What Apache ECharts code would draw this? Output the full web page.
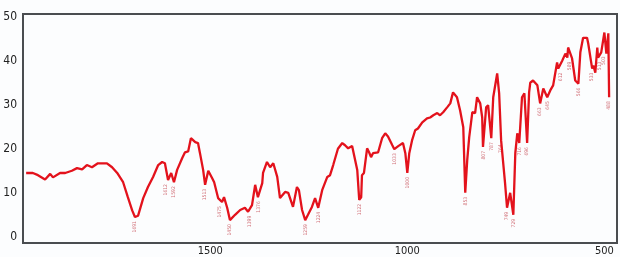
<!DOCTYPE html>
<html>
<head>
<meta charset="utf-8">
<script src="https://cdn.jsdelivr.net/npm/echarts@6/dist/echarts.min.js"></script>
<style>
  html, body { margin: 0; padding: 0; background: #fcfdfe; }
  #chart { width: 620px; height: 257px; }
</style>
</head>
<body>
<div id="chart"></div>
<script>
// IR spectrum (wavenumber cm-1 -> transmittance)
const wavenumbers = [
  1967, 1950, 1937, 1919, 1906, 1899, 1881, 1868, 1851, 1838, 1825, 1813, 1800, 1785, 1762, 1749,
  1736, 1721, 1709, 1698, 1691, 1683, 1670, 1658, 1645, 1632, 1622, 1615, 1607, 1599, 1592, 1584,
  1571, 1564, 1556, 1549, 1538, 1531, 1526, 1518, 1513, 1505, 1495, 1490, 1480, 1470, 1465, 1457,
  1450, 1437, 1424, 1412, 1404, 1394, 1386, 1379, 1368, 1366, 1356, 1348, 1340, 1330, 1323, 1310,
  1302, 1290, 1280, 1275, 1267, 1259, 1252, 1242, 1234, 1226, 1216, 1203, 1196, 1188, 1176, 1165,
  1158, 1150, 1140, 1135, 1127, 1122, 1117, 1115, 1110, 1102, 1097, 1092, 1087, 1074, 1064, 1056,
  1049, 1038, 1033, 1023, 1011, 1005, 1000, 995, 988, 980, 973, 962, 950, 942, 934, 924,
  917, 909, 899, 891, 884, 874, 866, 858, 853, 848, 843, 835, 828, 823, 815, 810,
  808, 800, 795, 787, 782, 772, 767, 762, 757, 752, 747, 739, 731, 726, 721, 716,
  709, 703, 696, 691, 688, 681, 670, 663, 655, 645, 637, 630, 620, 617, 607, 599,
  594, 592, 582, 574, 566, 561, 554, 544, 541, 531, 528, 523, 518, 516, 508, 500,
  495, 490, 488
];
const transmittance = [
  14.5, 14.5, 14.0, 13.0, 14.3, 13.5, 14.5, 14.5, 15.0, 15.6, 15.3, 16.3, 15.8, 16.7, 16.7, 15.8,
  14.5, 12.4, 9.0, 6.0, 4.5, 4.8, 8.8, 11.3, 13.6, 16.3, 17.0, 16.7, 12.9, 14.5, 12.4, 15.2,
  17.9, 19.2, 19.4, 22.4, 21.5, 21.3, 19.0, 15.2, 11.8, 15.0, 13.3, 12.4, 8.8, 7.9, 9.0, 6.6,
  3.8, 5.0, 6.1, 6.6, 5.7, 7.2, 11.8, 9.0, 12.2, 14.5, 17.0, 15.8, 16.7, 13.6, 8.8, 10.2,
  10.0, 6.8, 11.3, 10.6, 6.1, 3.8, 5.0, 6.8, 8.8, 6.6, 10.6, 13.6, 14.0, 16.3, 20.0, 21.3,
  20.8, 20.1, 20.6, 20.4, 15.2, 8.4, 9.0, 14.0, 14.5, 20.1, 19.2, 18.1, 19.0, 19.2, 22.4, 23.5,
  22.8, 20.8, 19.9, 20.6, 21.3, 19.0, 14.5, 19.0, 21.9, 24.2, 24.6, 26.0, 26.9, 27.1, 27.6, 28.1,
  27.6, 28.3, 29.4, 30.3, 32.8, 31.7, 28.7, 24.9, 10.0, 17.4, 22.6, 28.3, 28.1, 31.7, 30.3, 27.1,
  20.4, 29.4, 29.9, 22.4, 31.7, 37.1, 32.6, 21.9, 21.5, 12.2, 6.6, 10.0, 5.0, 19.0, 23.5, 21.3,
  31.7, 32.6, 21.3, 32.8, 35.0, 35.5, 34.4, 30.3, 33.7, 31.7, 33.3, 34.4, 39.6, 38.2, 40.0, 41.6,
  40.7, 43.0, 40.5, 35.5, 34.8, 41.9, 45.2, 45.2, 43.9, 38.2, 38.9, 37.3, 43.0, 40.7, 41.9, 46.4,
  41.6, 46.2, 31.7
];
// annotated band positions (printed under the dips)
const peakLabels = [
  1691, 1612, 1592, 1513, 1475, 1450, 1399, 1376, 1259, 1224, 1122, 1033, 1000,
  853, 807, 787, 764, 749, 729, 716, 696, 663, 645, 612, 589, 566, 533, 513, 503, 488
];
const xTicks = [1500, 1000, 500];
const yTicks = [0, 10, 20, 30, 40, 50];

const spectrum = wavenumbers.map((w, i) => [w, transmittance[i]]);

function dipAt(w) {
  let best = null;
  spectrum.forEach(([x, y]) => {
    if (Math.abs(x - w) <= 6 && (best === null || y < best)) best = y;
  });
  if (best === null) {
    let d = Infinity;
    spectrum.forEach(([x, y]) => {
      if (Math.abs(x - w) < d) { d = Math.abs(x - w); best = y; }
    });
  }
  return best;
}

const chart = echarts.init(document.getElementById('chart'));
chart.setOption({
  backgroundColor: '#fcfdfe',
  animation: false,
  grid: {
    left: 23, right: 3, top: 14, bottom: 13,
    show: true, borderColor: '#4a4d50', borderWidth: 2, backgroundColor: 'transparent'
  },
  xAxis: {
    type: 'value',
    inverse: true,
    min: 468,
    max: 1975,
    axisLine: { show: false },
    axisTick: { show: false },
    splitLine: { show: false },
    axisLabel: {
      customValues: xTicks,
      formatter: (v) => String(v),
      color: '#222',
      fontSize: 11,
      fontFamily: 'Liberation Sans Narrow, DejaVu Sans Condensed, sans-serif',
      margin: 3
    }
  },
  yAxis: {
    type: 'value',
    min: -1.4,
    max: 50.6,
    axisLine: { show: false },
    axisTick: { show: false },
    splitLine: { show: false },
    axisLabel: {
      customValues: yTicks,
      formatter: (v) => String(v),
      color: '#222',
      fontSize: 12,
      fontFamily: 'Liberation Sans Narrow, DejaVu Sans Condensed, sans-serif',
      margin: 6
    }
  },
  series: [
    {
      type: 'line',
      data: spectrum,
      showSymbol: false,
      smooth: false,
      lineStyle: { color: '#e3121c', width: 2.3 },
      z: 3
    },
    {
      type: 'scatter',
      data: peakLabels.map((w) => [w, dipAt(w)]),
      symbolSize: 0,
      silent: true,
      label: {
        show: true,
        position: 'bottom',
        distance: 4,
        rotate: 90,
        align: 'right',
        verticalAlign: 'middle',
        formatter: (p) => String(p.value[0]),
        color: '#c8505a',
        fontSize: 5,
        fontFamily: 'DejaVu Sans Condensed, sans-serif'
      },
      z: 2
    }
  ]
});
</script>
</body>
</html>
